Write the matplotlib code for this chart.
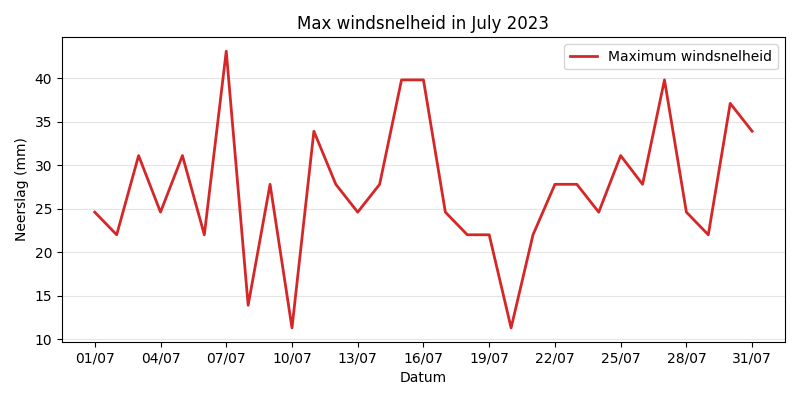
import matplotlib
matplotlib.use('Agg')
from matplotlib import pyplot as plt
import matplotlib.dates as mdates
import pandas as pd

# max windsnelheid per dag, juli 2023
dates = pd.date_range('2023-07-01', '2023-07-31', freq='D')
wind_max = [24.6, 22.0, 31.1, 24.6, 31.1, 22.0, 43.1, 13.9, 27.8, 11.3,
            33.9, 27.8, 24.6, 27.8, 39.8, 39.8, 24.6, 22.0, 22.0, 11.3,
            22.0, 27.8, 27.8, 24.6, 31.1, 27.8, 39.8, 24.6, 22.0, 37.1,
            33.9]

fig, ax = plt.subplots(figsize=(8, 4), dpi=100)
ax.plot(dates, wind_max, color='#d62728', linewidth=2, label='Maximum windsnelheid')
ax.set_title('Max windsnelheid in July 2023')
ax.set_xlabel('Datum')
ax.set_ylabel('Neerslag (mm)')
ax.set_xticks(dates[::3])
ax.xaxis.set_major_formatter(mdates.DateFormatter('%d/%m'))
ax.grid(axis='y', color='#e5e5e5', linewidth=0.8)
ax.set_axisbelow(True)
ax.legend(loc='upper right')
plt.tight_layout()
plt.savefig('out.png')
